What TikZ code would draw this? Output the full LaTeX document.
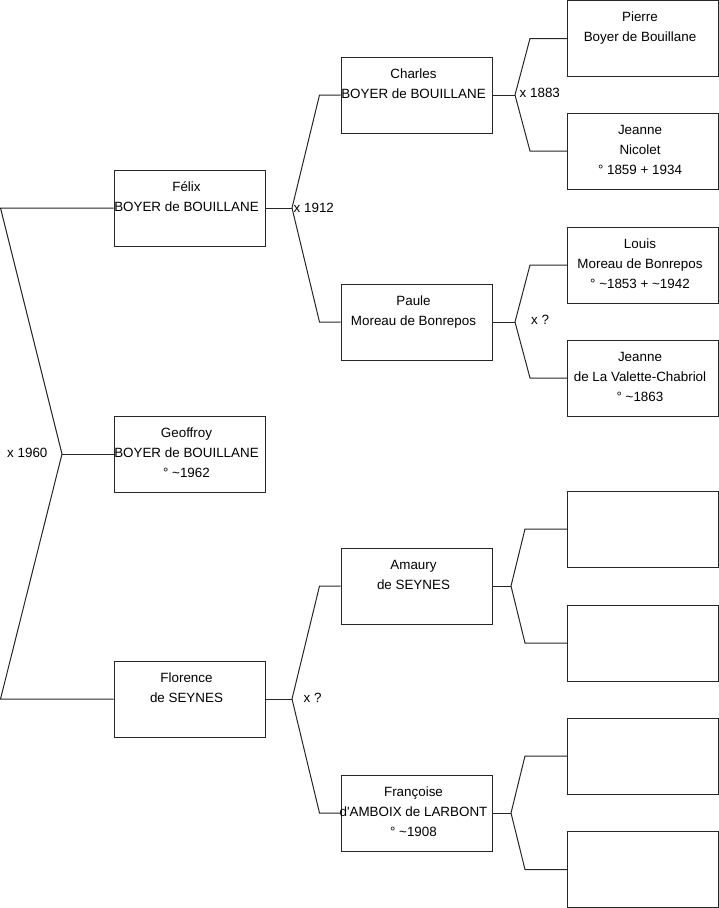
\documentclass[tikz,border=0pt]{standalone}
\usepackage{fontspec}
\setmainfont{Liberation Sans}
\definecolor{linec}{HTML}{262626}
\newcommand\ptext[1]{\begin{minipage}[c][76pt][t]{151pt}\centering\leftskip=-3pt plus 1fil\rightskip=3pt plus 1fil\fontsize{13.4}{20}\selectfont\rule{0pt}{21pt}#1\end{minipage}}
\begin{document}
\begin{tikzpicture}[x=1pt,y=-1pt,
  person/.style={draw=linec, line width=1pt, inner sep=0pt, minimum width=151pt, minimum height=76pt},
  conn/.style={draw=linec, line width=1pt, line join=miter},
  marr/.style={anchor=west, inner sep=0pt, font=\fontsize{13.4}{15}\selectfont}]
\useasboundingbox (0,0) rectangle (719,908);
% column 1
\node[person] (felix) at (189.5,208) {\ptext{Félix\\BOYER de BOUILLANE}};
\node[person] (geoffroy) at (189.5,454) {\ptext{Geoffroy\\BOYER de BOUILLANE\\° \textasciitilde1962}};
\node[person] (florence) at (189.5,699) {\ptext{Florence\\de SEYNES}};
% column 2
\node[person] (charles) at (416.5,95) {\ptext{Charles\\BOYER de BOUILLANE}};
\node[person] (paule) at (416.5,322) {\ptext{Paule\\Moreau de Bonrepos}};
\node[person] (amaury) at (416.5,586) {\ptext{Amaury\\de SEYNES}};
\node[person] (francoise) at (416.5,813) {\ptext{Françoise\\d\textquotesingle AMBOIX de LARBONT\\° \textasciitilde1908}};
% column 3
\node[person] (pierre) at (643,38.5) {\ptext{Pierre\\Boyer de Bouillane}};
\node[person] (jeannen) at (643,151) {\ptext{Jeanne\\Nicolet\\° 1859 + 1934}};
\node[person] (louis) at (643,265) {\ptext{Louis\\Moreau de Bonrepos\\° \textasciitilde1853 + \textasciitilde1942}};
\node[person] (jeannel) at (643,378) {\ptext{Jeanne\\de La Valette-Chabriol\\° \textasciitilde1863}};
\node[person] (e1) at (643,529) {};
\node[person] (e2) at (643,643) {};
\node[person] (e3) at (643,756) {};
\node[person] (e4) at (643,869.5) {};
% fork vertices
\coordinate (t0) at (0.5,208);
\coordinate (b0) at (0.5,699);
\coordinate (v0) at (62,454);
\coordinate (v1) at (292,208);
\coordinate (v2) at (515,95);
\coordinate (v3) at (515,322);
\coordinate (v4) at (292,699);
\coordinate (v5) at (511,586);
\coordinate (v6) at (511,813);
% connectors
\draw[conn] (felix.west) -- (t0) -- (v0) -- (b0) -- (florence.west);
\draw[conn] (v0) -- (geoffroy.west);
\draw[conn] (felix.east) -- (v1);
\draw[conn] (charles.west) -- ++(-21,0) -- (v1) -- ([xshift=-21pt]paule.west) -- (paule.west);
\draw[conn] (charles.east) -- (v2);
\draw[conn] (pierre.west) -- ++(-37,0) -- (v2) -- ([xshift=-37pt]jeannen.west) -- (jeannen.west);
\draw[conn] (paule.east) -- (v3);
\draw[conn] (louis.west) -- ++(-37,0) -- (v3) -- ([xshift=-37pt]jeannel.west) -- (jeannel.west);
\draw[conn] (florence.east) -- (v4);
\draw[conn] (amaury.west) -- ++(-21,0) -- (v4) -- ([xshift=-21pt]francoise.west) -- (francoise.west);
\draw[conn] (amaury.east) -- (v5);
\draw[conn] (e1.west) -- ++(-42,0) -- (v5) -- ([xshift=-42pt]e2.west) -- (e2.west);
\draw[conn] (francoise.east) -- (v6);
\draw[conn] (e3.west) -- ++(-42,0) -- (v6) -- ([xshift=-42pt]e4.west) -- (e4.west);
% marriage labels
\node[marr] (m0) at (7,453) {x 1960};
\node[marr] (m1) at (293.5,208) {x 1912};
\node[marr] (m2) at (519.5,93) {x 1883};
\node[marr] (m3) at (531,320) {x ?};
\node[marr] (m4) at (303.5,698) {x ?};
\end{tikzpicture}
\end{document}
